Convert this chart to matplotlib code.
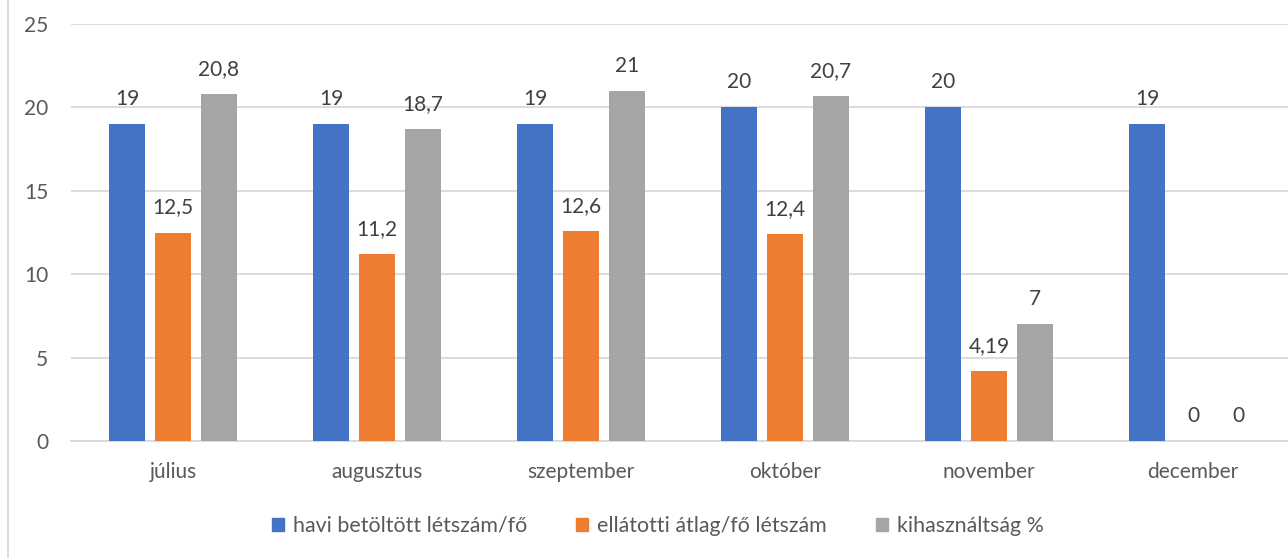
import matplotlib
matplotlib.use("Agg")
import matplotlib.pyplot as plt
import numpy as np
from matplotlib.lines import Line2D

plt.rcParams['font.family'] = ['Lato', 'DejaVu Sans']

months = ["július", "augusztus", "szeptember", "október", "november", "december"]
series_names = ["havi betöltött létszám/fő", "ellátotti átlag/fő létszám", "kihasználtság %"]
havi = [19, 19, 19, 20, 20, 19]
ellatotti = [12.5, 11.2, 12.6, 12.4, 4.19, 0]
kihasz = [20.8, 18.7, 21, 20.7, 7, 0]
havi_labels = ["19", "19", "19", "20", "20", "19"]
ellatotti_labels = ["12,5", "11,2", "12,6", "12,4", "4,19", "0"]
kihasz_labels = ["20,8", "18,7", "21", "20,7", "7", "0"]
yticks = [0, 5, 10, 15, 20, 25]

colors = ["#4472C4", "#ED7D31", "#A5A5A5"]
text_color = "#595959"
label_color = "#404040"
grid_color = "#D9D9D9"
fs = 15

W, H = 1288, 558
fig = plt.figure(figsize=(W / 100, H / 100), dpi=100)
left_px, right_px, top_px, bottom_px = 71, 1295, 24, 441
ax = fig.add_axes([left_px / W, 1 - bottom_px / H, (right_px - left_px) / W, (bottom_px - top_px) / H])

x = np.arange(len(months))
bw = 0.177
step = 0.224
all_series = [havi, ellatotti, kihasz]
all_labels = [havi_labels, ellatotti_labels, kihasz_labels]
for i, (vals, labs) in enumerate(zip(all_series, all_labels)):
    xs = x + (i - 1) * step
    ax.bar(xs, vals, width=bw, color=colors[i], zorder=3)
    for xi, v, lab in zip(xs, vals, labs):
        ax.annotate(lab, (xi, v), xytext=(0, 18), textcoords="offset points",
                    ha="center", va="center", fontsize=fs, color=label_color)

ax.set_xlim(-0.5, 5.5)
ax.set_ylim(0, 25)
ax.set_yticks(yticks)
ax.set_yticklabels([str(t) for t in yticks])
ax.set_xticks(x)
ax.set_xticklabels(months)
ax.yaxis.grid(True, color=grid_color, linewidth=1.3, zorder=0)
ax.set_axisbelow(True)
for s in ["top", "right", "left"]:
    ax.spines[s].set_visible(False)
ax.spines["bottom"].set_color(grid_color)
ax.spines["bottom"].set_linewidth(1.3)
ax.tick_params(axis="both", length=0, labelsize=fs, labelcolor=text_color)
ax.tick_params(axis="y", pad=16.5)
ax.tick_params(axis="x", pad=15)

handles = [plt.Rectangle((0, 0), 1, 1, color=c) for c in colors]
fig.legend(handles, series_names, loc="center", bbox_to_anchor=(658 / W, 1 - 526 / H),
           ncol=3, frameon=False, fontsize=15.4, labelcolor=text_color,
           handlelength=0.55, handleheight=0.55, handletextpad=0.42, columnspacing=2.3,
           borderpad=0, borderaxespad=0)

fig.add_artist(Line2D([7.5 / W, 7.5 / W], [0, 1], color=grid_color, linewidth=1.3, transform=fig.transFigure))

fig.savefig("out.png", dpi=100, facecolor="white")
